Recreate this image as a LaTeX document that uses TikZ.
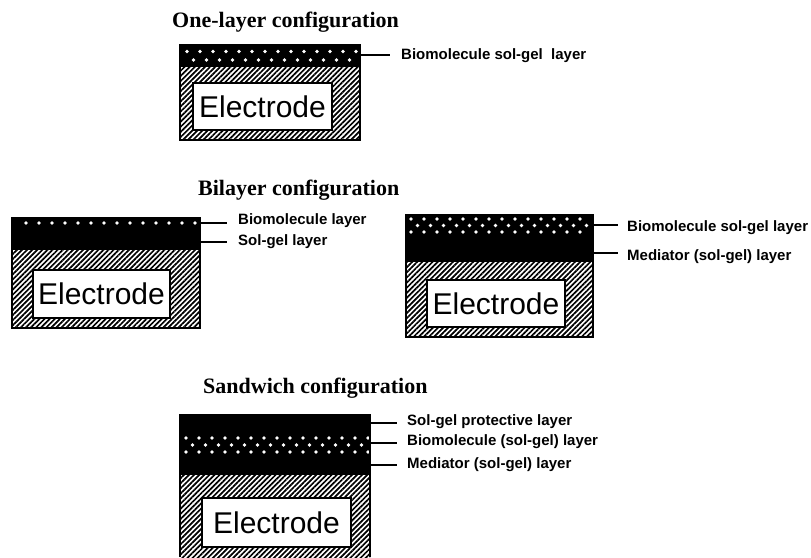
\documentclass[tikz,border=0pt]{standalone}
\usepackage{fontspec}
\setmainfont{Liberation Serif}
\setsansfont{Liberation Sans}
\usetikzlibrary{patterns.meta}
\begin{document}
\begin{tikzpicture}[x=1pt,y=-1pt,
  title/.style={anchor=base west, font=\fontsize{22}{24}\selectfont\bfseries, inner sep=0pt},
  lbl/.style={anchor=west, font=\sffamily\bfseries\fontsize{15}{17}\selectfont, inner sep=0pt},
  hatch/.style={pattern={Lines[angle=45,distance=3.6pt,line width=1.7pt]}},
  outline/.style={draw=black, line width=1.5pt},
  elec/.style={draw=black, line width=1.4pt, fill=white, font=\sffamily\fontsize{30}{32}\selectfont, inner sep=0pt},
  dot/.style={fill=white, draw=none},
  lead/.style={line width=1.2pt}
]
\useasboundingbox (0,0) rectangle (811,557);

% ---------------- One-layer ----------------
\node[title] (t1) at (172,27) {One-layer configuration};
\fill[hatch] (180,45) rectangle (360,140);
\fill[black] (180,45) rectangle (360,67);
\foreach \x in {187,200,...,357} {\fill[dot] (\x,51.5) circle (1.9);}
\foreach \x in {193.5,206.5,...,352} {\fill[dot] (\x,60) circle (1.9);}
\draw[outline] (180,45) rectangle (360,140);
\node[elec, minimum width=139pt, minimum height=47pt] (e1) at (262.5,106.5) {Electrode};
\coordinate (a1) at (360,55);
\coordinate (b1) at (390,55);
\node[lbl] (l1) at (401,56) {Biomolecule sol-gel\ \ layer};
\draw[lead] (a1) -- (b1);

% ---------------- Bilayer ----------------
\node[title] (t2) at (198,195) {Bilayer configuration};

% left
\fill[hatch] (12,218) rectangle (200,328);
\fill[black] (12,218) rectangle (200,250);
\foreach \x in {26,39,...,196} {\fill[dot] (\x,223) circle (1.8);}
\draw[outline] (12,218) rectangle (200,328);
\node[elec, minimum width=137pt, minimum height=48pt] (e2) at (101.5,294) {Electrode};
\coordinate (a2) at (200,223);
\coordinate (b2) at (227,223);
\coordinate (a3) at (200,242);
\coordinate (b3) at (227,242);
\draw[lead] (a2) -- (b2);
\draw[lead] (a3) -- (b3);
\node[lbl] (l2) at (238,221) {Biomolecule layer};
\node[lbl] (l3) at (238,242) {Sol-gel layer};

% right
\fill[hatch] (406,215) rectangle (593,337);
\fill[black] (406,215) rectangle (593,262);
\foreach \x in {411,424,...,590} {\fill[dot] (\x,219) circle (1.9); \fill[dot] (\x,232) circle (1.9);}
\foreach \x in {417.5,430.5,...,590} {\fill[dot] (\x,225.5) circle (1.9);}
\draw[outline] (406,215) rectangle (593,337);
\node[elec, minimum width=138pt, minimum height=47pt] (e3) at (496,303.5) {Electrode};
\coordinate (a4) at (593,225);
\coordinate (b4) at (618,225);
\coordinate (a5) at (593,253);
\coordinate (b5) at (618,253);
\draw[lead] (a4) -- (b4);
\draw[lead] (a5) -- (b5);
\node[lbl] (l4) at (627,228) {Biomolecule sol-gel layer};
\node[lbl] (l5) at (627,257) {Mediator (sol-gel) layer};

% ---------------- Sandwich ----------------
\node[title] (t3) at (203,393) {Sandwich configuration};
\fill[hatch] (180,415) rectangle (370,557);
\fill[black] (180,415) rectangle (370,475);
\foreach \x in {186,199,...,368} {\fill[dot] (\x,438) circle (1.9); \fill[dot] (\x,452) circle (1.9);}
\foreach \x in {192.5,205.5,...,368} {\fill[dot] (\x,445) circle (1.9);}
\draw[outline] (180,557) -- (180,415) -- (370,415) -- (370,557);
\node[elec, minimum width=149pt, minimum height=49pt] (e4) at (276.5,522.5) {Electrode};
\coordinate (a6) at (370,423);
\coordinate (b6) at (397,423);
\coordinate (a7) at (370,443);
\coordinate (b7) at (397,443);
\coordinate (a8) at (370,465);
\coordinate (b8) at (397,465);
\draw[lead] (a6) -- (b6);
\draw[lead] (a7) -- (b7);
\draw[lead] (a8) -- (b8);
\node[lbl] (l6) at (407,422) {Sol-gel protective layer};
\node[lbl] (l7) at (407,442) {Biomolecule (sol-gel) layer};
\node[lbl] (l8) at (407,465) {Mediator (sol-gel) layer};
\end{tikzpicture}
\end{document}
